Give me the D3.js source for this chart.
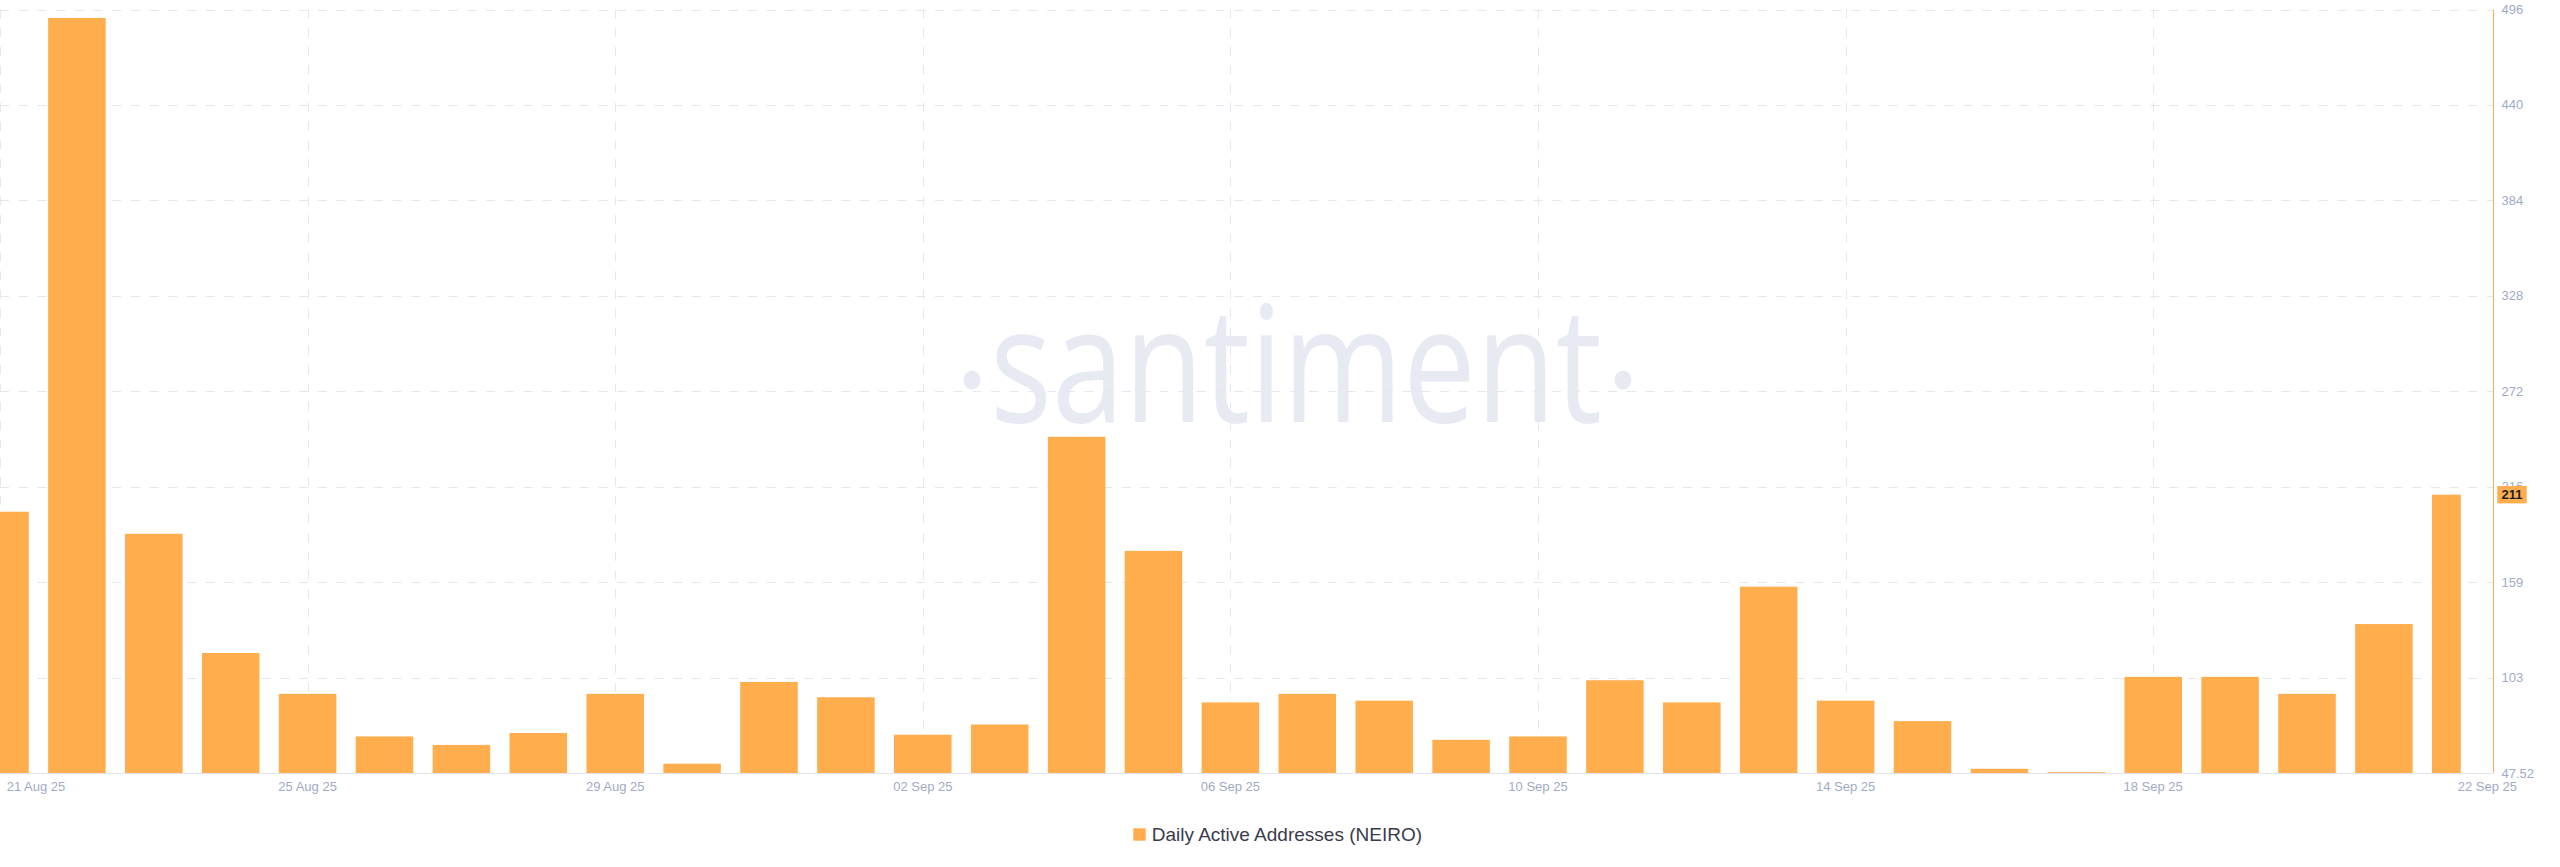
<!DOCTYPE html>
<html>
<head>
<meta charset="utf-8">
<script src="https://cdn.jsdelivr.net/npm/d3@7"></script>
<style>
  html, body { margin: 0; padding: 0; background: #ffffff; }
  svg { display: block; }
</style>
</head>
<body>
<svg id="chart" width="2560" height="867"></svg>
<script>
// ---- data ----
const categories = [
  "21 Aug 25","22 Aug 25","23 Aug 25","24 Aug 25","25 Aug 25","26 Aug 25","27 Aug 25","28 Aug 25",
  "29 Aug 25","30 Aug 25","31 Aug 25","01 Sep 25","02 Sep 25","03 Sep 25","04 Sep 25","05 Sep 25",
  "06 Sep 25","07 Sep 25","08 Sep 25","09 Sep 25","10 Sep 25","11 Sep 25","12 Sep 25","13 Sep 25",
  "14 Sep 25","15 Sep 25","16 Sep 25","17 Sep 25","18 Sep 25","19 Sep 25","20 Sep 25","21 Sep 25",
  "22 Sep 25"
];
const dailyActiveAddresses = [
  201, 491, 188, 118, 94, 69, 64, 71,
  94, 53, 101, 92, 70, 76, 245, 178,
  89, 94, 90, 67, 69, 102, 89, 157,
  90, 78, 50, 48, 104, 104, 94, 135,
  211
];
const xTickLabels = ["21 Aug 25","25 Aug 25","29 Aug 25","02 Sep 25","06 Sep 25","10 Sep 25","14 Sep 25","18 Sep 25","22 Sep 25"];
const yTickValues = [47.52, 103.58, 159.64, 215.7, 271.76, 327.82, 383.88, 439.94, 496];
const yTickLabels = ["47.52", "103", "159", "216", "272", "328", "384", "440", "496"];
const seriesName = "Daily Active Addresses (NEIRO)";
const lastValueLabel = "211";

// ---- layout ----
const W = 2560, H = 867;
const plotLeft = 0, plotTop = 9.5, plotBottom = 773, axisX = 2493, lastCenter = 2460.8;
const orange = "#ffad4d";
const gridColor = "#e4e7f0";
const tickColor = "#9faac4";

const svg = d3.select("#chart");

const x = d3.scalePoint().domain(categories).range([plotLeft, lastCenter]);
const y = d3.scaleLinear().domain([47.52, 496]).range([plotBottom, plotTop]);
const barW = x.step() * 0.748;

// watermark
const wm = svg.append("g").attr("fill", "#e8eaf3");
wm.append("text")
  .attr("x", 1296).attr("y", 421.7)
  .attr("text-anchor", "middle")
  .attr("font-family", "'Open Sans', 'Noto Sans', sans-serif")
  .attr("font-size", 162)
  .attr("textLength", 612)
  .attr("lengthAdjust", "spacingAndGlyphs")
  .text("santiment");
wm.append("ellipse").attr("cx", 972).attr("cy", 380).attr("rx", 8.5).attr("ry", 9.5);
wm.append("ellipse").attr("cx", 1623).attr("cy", 380).attr("rx", 8.5).attr("ry", 9.5);

// horizontal grid
svg.append("g")
  .selectAll("line")
  .data(yTickValues.slice(1))
  .join("line")
  .attr("x1", plotLeft).attr("x2", axisX)
  .attr("y1", d => Math.round(y(d)) + 0.5).attr("y2", d => Math.round(y(d)) + 0.5)
  .attr("stroke", gridColor).attr("stroke-width", 1)
  .attr("stroke-dasharray", "9,9.7");

// vertical grid at labeled dates (except last)
const vGrid = xTickLabels.slice(0, -1);
svg.append("g")
  .selectAll("line")
  .data(vGrid)
  .join("line")
  .attr("x1", d => Math.round(x(d)) + 0.5).attr("x2", d => Math.round(x(d)) + 0.5)
  .attr("y1", plotTop).attr("y2", plotBottom)
  .attr("stroke", gridColor).attr("stroke-width", 1)
  .attr("stroke-dasharray", "9,9.7");

// bars
svg.append("clipPath").attr("id", "plotClip")
  .append("rect").attr("x", plotLeft).attr("y", 0).attr("width", lastCenter - plotLeft).attr("height", H);

svg.append("g").attr("clip-path", "url(#plotClip)")
  .selectAll("rect")
  .data(categories.map((c, i) => ({ c, v: dailyActiveAddresses[i] })))
  .join("rect")
  .attr("x", d => x(d.c) - barW / 2)
  .attr("y", d => y(d.v))
  .attr("width", barW)
  .attr("height", d => plotBottom - y(d.v))
  .attr("fill", orange);

// baseline
svg.append("line")
  .attr("x1", plotLeft).attr("x2", axisX)
  .attr("y1", plotBottom + 0.5).attr("y2", plotBottom + 0.5)
  .attr("stroke", "#e1e4ee").attr("stroke-width", 1);

// right axis line
svg.append("line")
  .attr("x1", axisX + 0.5).attr("x2", axisX + 0.5)
  .attr("y1", plotTop).attr("y2", plotBottom)
  .attr("stroke", orange).attr("stroke-width", 1);

// y tick labels
svg.append("g")
  .selectAll("text")
  .data(yTickValues)
  .join("text")
  .attr("x", 2501.5)
  .attr("y", d => y(d))
  .attr("dy", "0.35em")
  .attr("font-family", "'Liberation Sans', Arial, sans-serif")
  .attr("font-size", 13)
  .attr("fill", tickColor)
  .text((d, i) => yTickLabels[i]);

// x tick labels
svg.append("g")
  .selectAll("text")
  .data(xTickLabels)
  .join("text")
  .attr("x", (d, i) => i === 0 ? 6.7 : (i === xTickLabels.length - 1 ? 2517 : x(d)))
  .attr("y", 786)
  .attr("dy", "0.35em")
  .attr("text-anchor", (d, i) => i === 0 ? "start" : (i === xTickLabels.length - 1 ? "end" : "middle"))
  .attr("font-family", "'Liberation Sans', Arial, sans-serif")
  .attr("font-size", 13)
  .attr("fill", tickColor)
  .text(d => d);

// last value badge
const lastVal = dailyActiveAddresses[dailyActiveAddresses.length - 1];
svg.append("rect")
  .attr("x", 2497.3).attr("y", y(lastVal) - 8.7)
  .attr("width", 29.4).attr("height", 17.4)
  .attr("fill", orange);
svg.append("text")
  .attr("x", 2501.5).attr("y", y(lastVal))
  .attr("dy", "0.35em")
  .attr("font-family", "'Liberation Sans', Arial, sans-serif")
  .attr("font-size", 13).attr("font-weight", "bold")
  .attr("fill", "#1d1e2c")
  .text(lastValueLabel);

// legend
const lg = svg.append("g");
lg.append("rect").attr("x", 1133.3).attr("y", 828.3).attr("width", 12.4).attr("height", 12.4).attr("fill", orange);
lg.append("text")
  .attr("x", 1151.7).attr("y", 840.7)
  .attr("font-family", "'Liberation Sans', Arial, sans-serif")
  .attr("font-size", 19)
  .attr("fill", "#3a3c4c")
  .text(seriesName);
</script>
</body>
</html>
